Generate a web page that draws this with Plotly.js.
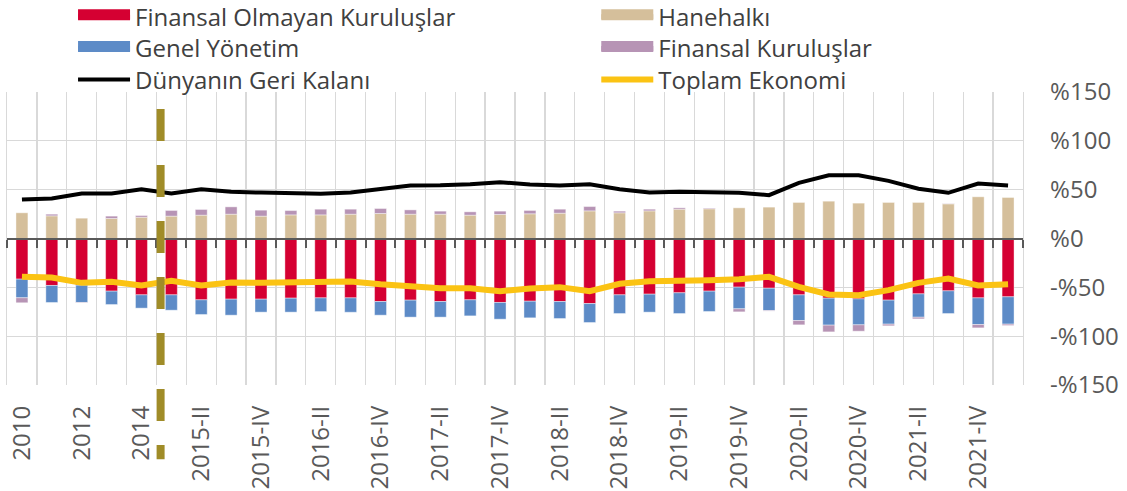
<!DOCTYPE html>
<html>
<head>
<meta charset="utf-8">
<script src="https://cdn.plot.ly/plotly-3.0.1.min.js"></script>
<style>html,body{margin:0;padding:0;background:#fff;}#chart{width:1127px;height:491px;}</style>
</head>
<body>
<div id="chart"></div>
<script>
const categories = ['2010','2011','2012','2013','2014',
  '2015-I','2015-II','2015-III','2015-IV',
  '2016-I','2016-II','2016-III','2016-IV',
  '2017-I','2017-II','2017-III','2017-IV',
  '2018-I','2018-II','2018-III','2018-IV',
  '2019-I','2019-II','2019-III','2019-IV',
  '2020-I','2020-II','2020-III','2020-IV',
  '2021-I','2021-II','2021-III','2021-IV',
  '2022-I'];

const finansalOlmayan = [-41.6,-48.1,-47.8,-53.9,-57.7,
  -57.7,-62.8,-62.1,-62.1,
  -61.1,-60.8,-60.8,-64.5,
  -63.1,-64.5,-62.8,-65.5,
  -64.2,-64.5,-66.6,-57.7,
  -57.0,-55.6,-53.9,-49.8,
  -50.9,-57.7,-61.1,-61.8,
  -63.1,-56.7,-53.6,-60.8,
  -59.7];

const hanehalki = [26.3,23.2,20.8,20.5,21.8,
  22.9,23.9,24.9,22.9,
  24.2,24.2,24.9,25.6,
  24.9,24.9,23.9,24.6,
  25.3,25.9,28.3,26.3,
  28.3,30.0,30.4,31.4,
  32.1,36.9,38.2,36.2,
  36.9,36.9,35.5,42.7,
  42.0];

const genelYonetim = [-19.1,-17.4,-17.7,-13.7,-13.6,
  -15.7,-15.0,-16.4,-13.3,
  -14.3,-14.0,-14.7,-14.0,
  -17.4,-16.0,-16.4,-17.1,
  -17.0,-17.4,-19.4,-19.1,
  -18.4,-21.2,-20.8,-22.2,
  -22.9,-26.3,-27.6,-26.6,
  -24.6,-23.9,-23.2,-27.3,
  -28.0];

const finansalKuruluslar = [-5.1,1.7,-0.5,2.4,1.7,
  5.8,5.8,7.5,6.1,
  4.4,5.8,5.1,5.1,
  4.4,3.1,3.4,3.4,
  3.4,4.1,4.4,1.7,
  1.7,1.4,0.7,-3.1,
  -0.5,-4.4,-6.9,-6.5,
  -1.7,-1.7,0.3,-3.4,
  -1.4];

const dunyaninGeriKalani = [40.0,41.0,46.0,46.0,50.5,
  46.0,50.5,47.8,47.0,
  46.0,45.7,47.0,50.2,
  54.3,54.6,55.6,57.7,
  55.3,54.3,55.6,50.5,
  47.0,47.8,47.4,46.8,
  44.4,57.0,64.8,64.8,
  59.0,50.9,46.8,56.3,
  54.3];

const toplamEkonomi = [-39.2,-40.0,-45.4,-44.4,-48.1,
  -43.3,-48.1,-45.0,-45.4,
  -44.7,-43.3,-44.0,-46.8,
  -49.5,-50.9,-50.9,-53.9,
  -51.2,-49.8,-53.9,-46.4,
  -43.7,-43.7,-42.7,-41.6,
  -39.2,-49.5,-57.3,-58.0,
  -52.9,-45.4,-41.0,-48.1,
  -46.8];

const yTickVals = [-150,-100,-50,0,50,100,150];
const yTickText = ['-%150','-%100','-%50','%0','%50','%100','%150'];
const xLabelVals = categories.filter((c, i) => i % 2 === 0 && i < 33);

const names = {
  red: 'Finansal Olmayan Kuruluşlar',
  tan: 'Hanehalkı',
  blue: 'Genel Yönetim',
  purple: 'Finansal Kuruluşlar',
  black: 'Dünyanın Geri Kalanı',
  yellow: 'Toplam Ekonomi'
};
const colors = {red:'#d50032', tan:'#d5bf9b', blue:'#5d8bc7', purple:'#b794b5', black:'#000000', yellow:'#fbc313'};

const FONT = '"Open Sans", "DejaVu Sans", sans-serif';
const empty = categories.map(() => null);

function legendStub(key, legendId) {
  return {type:'scatter', mode:'lines', x: categories, y: empty, name: names[key],
    legendgroup: key, legend: legendId, fill: 'tozeroy', fillcolor: colors[key],
    line: {color: colors[key], width: 10}, hoverinfo: 'skip'};
}
function bar(key, vals) {
  return {type:'bar', x: categories, y: vals, name: names[key], legendgroup: key, showlegend: false,
    marker: {color: colors[key], line: {color: 'rgba(255,255,255,0.5)', width: 0.8}}};
}

const data = [
  legendStub('red', 'legend'),
  legendStub('tan', 'legend2'),
  legendStub('blue', 'legend3'),
  legendStub('purple', 'legend4'),
  bar('red', finansalOlmayan),
  bar('tan', hanehalki),
  bar('blue', genelYonetim),
  bar('purple', finansalKuruluslar),
  {type:'scatter', mode:'lines', x: categories, y: dunyaninGeriKalani, name: names.black,
    xaxis: 'x2', legend: 'legend5', line: {color: colors.black, width: 4}},
  {type:'scatter', mode:'lines', x: categories, y: toplamEkonomi, name: names.yellow,
    xaxis: 'x2', legend: 'legend6', line: {color: colors.yellow, width: 6}}
];

// plot area: top 92px, height 293px
const rowY = [16.7, 48.3, 80].map(py => (385 - py) / 293);
const colX = [0.065, 0.580];
function leg(col, row) {
  return {orientation:'v', traceorder:'normal', xanchor:'left', yanchor:'middle',
    x: colX[col], y: rowY[row],
    itemwidth: 52, tracegroupgap: 0, bgcolor:'rgba(0,0,0,0)', borderwidth: 0,
    font: {family: FONT, size: 24, color: '#404040'}};
}

const layout = {
  width: 1127, height: 491,
  margin: {l: 7, r: 104, t: 92, b: 106, pad: 0, autoexpand: false},
  paper_bgcolor: '#ffffff', plot_bgcolor: '#ffffff',
  barmode: 'relative', bargap: 0.6,
  showlegend: true,
  legend: leg(0, 0), legend2: leg(1, 0),
  legend3: leg(0, 1), legend4: leg(1, 1),
  legend5: leg(0, 2), legend6: leg(1, 2),
  font: {family: FONT, color: '#595959'},
  xaxis: {
    type: 'category', categoryorder: 'array', categoryarray: categories,
    range: [-0.5, categories.length - 0.5],
    anchor: 'free', position: 0.5,
    tickson: 'boundaries', ticks: 'outside', ticklen: 8, tickwidth: 2, tickcolor: '#595959',
    showticklabels: false,
    showgrid: true, gridcolor: '#d9d9d9', gridwidth: 1.3,
    showline: true, linecolor: '#595959', linewidth: 2,
    zeroline: false, fixedrange: true
  },
  xaxis2: {
    type: 'category', categoryorder: 'array', categoryarray: categories,
    range: [-0.5, categories.length - 0.5],
    overlaying: 'x', anchor: 'y', side: 'bottom',
    tickmode: 'array', tickvals: xLabelVals, ticktext: xLabelVals,
    tickangle: -90, ticks: '', ticklabelstandoff: 15,
    tickfont: {family: FONT, size: 24, color: '#595959'},
    showgrid: false, showline: false, zeroline: false, fixedrange: true
  },
  yaxis: {
    range: [-150, 150], side: 'right',
    tickmode: 'array', tickvals: yTickVals, ticktext: yTickText,
    ticks: '', ticklabelstandoff: 21,
    tickfont: {family: FONT, size: 24, color: '#595959'},
    showgrid: true, gridcolor: '#d9d9d9', gridwidth: 1.3,
    showline: true, mirror: true, linecolor: '#d9d9d9', linewidth: 1.3,
    zeroline: false, fixedrange: true
  },
  shapes: [{
    type: 'line', xref: 'x', yref: 'paper', x0: 4.64, x1: 4.64, y0: 0.942, y1: -0.253,
    line: {color: '#a08c28', width: 8, dash: '32px,24px'}, layer: 'above'
  }]
};

Plotly.newPlot('chart', data, layout, {displayModeBar: false, staticPlot: true});
</script>
</body>
</html>
